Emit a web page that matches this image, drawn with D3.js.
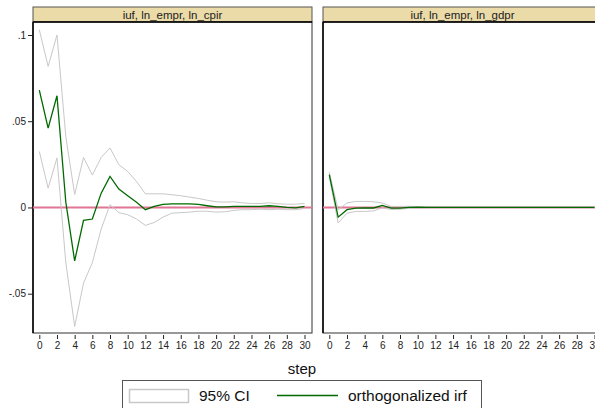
<!DOCTYPE html>
<html>
<head>
<meta charset="utf-8">
<script src="https://cdn.jsdelivr.net/npm/d3@7"></script>
<style>
  body { margin: 0; background: #fff; }
  svg { font-family: "Liberation Sans", Arial, sans-serif; }
</style>
</head>
<body>
<div id="chart"></div>
<script>
// 1: DATA
const steps = d3.range(0, 31);
const panelTitles = ["iuf, ln_empr, ln_cpir", "iuf, ln_empr, ln_gdpr"];
const yTicks = [-0.05, 0, 0.05, 0.1];
const yTickLabels = ["-.05", "0", ".05", ".1"];
const xTicks = d3.range(0, 31, 2);

const irfCpi = [0.068, 0.046, 0.0648, 0.003, -0.031, -0.0075, -0.0067, 0.0083, 0.018, 0.0107,
  0.0068, 0.003, -0.0013, 0.0006, 0.0018, 0.0021, 0.0021, 0.0021, 0.0018, 0.001,
  0.0003, 0.0003, 0.0006, 0.0006, 0.0006, 0.0006, 0.001, 0.0006, 0.0, -0.0002, 0.0006];
const upperCpi = [0.103, 0.0818, 0.1, 0.041, 0.0075, 0.029, 0.0188, 0.029, 0.0345, 0.0248,
  0.0209, 0.015, 0.0079, 0.0079, 0.0079, 0.0074, 0.0068, 0.006, 0.0052, 0.0042,
  0.0033, 0.0031, 0.0033, 0.0027, 0.0023, 0.0023, 0.0027, 0.0021, 0.0019, 0.0019, 0.0023];
const lowerCpi = [0.0325, 0.0112, 0.0287, -0.032, -0.069, -0.0439, -0.032, -0.0125, 0.0016, -0.003,
  -0.0042, -0.0067, -0.0104, -0.0087, -0.0056, -0.0033, -0.003, -0.0027, -0.0022, -0.0022,
  -0.0027, -0.0025, -0.0017, -0.0013, -0.0013, -0.001, -0.0013, -0.001, -0.0013, -0.0013, -0.0006];

const irfGdp = [0.019, -0.0056, -0.0013, -0.0004, -0.0003, -0.0003, 0.0012, -0.0004, -0.0004, 0.0,
  0.0002, 0, 0, 0, 0, 0, 0, 0, 0, 0, 0, 0, 0, 0, 0, 0, 0, 0, 0, 0, 0];
const upperGdp = [0.0205, -0.0013, 0.0026, 0.0035, 0.0035, 0.0033, 0.0026, 0.0006, 0.0006, 0.0007,
  0.0005, 0.0003, 0.0002, 0.0002, 0.0002, 0.0002, 0.0002, 0.0002, 0.0002, 0.0002,
  0.0002, 0.0002, 0.0002, 0.0002, 0.0002, 0.0002, 0.0002, 0.0002, 0.0002, 0.0002, 0.0002];
const lowerGdp = [0.0175, -0.009, -0.0033, -0.0023, -0.0023, -0.002, -0.0002, -0.0012, -0.001, -0.0005,
  -0.0003, -0.0002, -0.0002, -0.0002, -0.0002, -0.0002, -0.0002, -0.0002, -0.0002, -0.0002,
  -0.0002, -0.0002, -0.0002, -0.0002, -0.0002, -0.0002, -0.0002, -0.0002, -0.0002, -0.0002, -0.0002];

const panels = [
  { title: panelTitles[0], irf: irfCpi, upper: upperCpi, lower: lowerCpi },
  { title: panelTitles[1], irf: irfGdp, upper: upperGdp, lower: lowerGdp }
];

// 2: LAYOUT
const W = 595, H = 408;
const panelW = 279, panelGap = 11;
const plotTop = 22, plotBottom = 333, headerTop = 7;
const panelLeft0 = 33;

const svg = d3.select("#chart").append("svg")
  .attr("width", W).attr("height", H);

// 3: SCALES
const yScale = d3.scaleLinear().domain([-0.05, 0.1]).range([293.7, 35]);
const xScale = d3.scaleLinear().domain([0, 30]).range([6.3, 271.5]);

const line = d3.line()
  .x((d, i) => xScale(steps[i]))
  .y(d => yScale(d));

// 4: PANELS
panels.forEach((p, k) => {
  const left = panelLeft0 + k * (panelW + panelGap);
  const g = svg.append("g").attr("transform", `translate(${left},0)`);

  // header strip
  g.append("rect")
    .attr("x", 0).attr("y", headerTop)
    .attr("width", panelW).attr("height", plotTop - headerTop)
    .attr("fill", "#eadba8").attr("stroke", "#555").attr("stroke-width", 1);
  g.append("text")
    .attr("x", panelW / 2).attr("y", headerTop + 11.5)
    .attr("text-anchor", "middle")
    .attr("font-size", 11.5).attr("fill", "#222")
    .text(p.title);

  // plot frame
  g.append("rect")
    .attr("x", 0).attr("y", plotTop)
    .attr("width", panelW).attr("height", plotBottom - plotTop)
    .attr("fill", "#fff").attr("stroke", "#333").attr("stroke-width", 1);
  g.append("line")
    .attr("x1", 0).attr("x2", panelW)
    .attr("y1", plotTop).attr("y2", plotTop)
    .attr("stroke", "#000").attr("stroke-width", 1.5);
  g.append("line")
    .attr("x1", 0).attr("x2", 0)
    .attr("y1", plotTop).attr("y2", plotBottom)
    .attr("stroke", "#000").attr("stroke-width", 1.5);

  // zero line
  g.append("line")
    .attr("x1", 0).attr("x2", panelW)
    .attr("y1", yScale(0)).attr("y2", yScale(0))
    .attr("stroke", "#e07595").attr("stroke-width", 2);

  // CI lines
  [p.upper, p.lower].forEach(arr => {
    g.append("path")
      .attr("d", line(arr))
      .attr("fill", "none")
      .attr("stroke", "#c8c8c8")
      .attr("stroke-width", 1);
  });

  // irf line
  g.append("path")
    .attr("d", line(p.irf))
    .attr("fill", "none")
    .attr("stroke", "#006a00")
    .attr("stroke-width", 1.3);

  // x axis
  const xAxis = g.append("g")
    .attr("transform", `translate(0,${plotBottom + 2})`)
    .call(d3.axisBottom(xScale).tickValues(xTicks).tickSize(4).tickPadding(3));
  xAxis.select(".domain").remove();
  xAxis.selectAll("text").attr("font-size", 10).attr("fill", "#222")
    .attr("font-family", "Liberation Sans, Arial, sans-serif");
  xAxis.selectAll("line").attr("stroke", "#222");

  // y axis (left panel only)
  if (k === 0) {
    const yAxis = g.append("g")
      .call(d3.axisLeft(yScale).tickValues(yTicks)
        .tickFormat((d, i) => yTickLabels[i]).tickSize(5).tickPadding(2));
    yAxis.select(".domain").remove();
    yAxis.selectAll("text").attr("font-size", 10).attr("fill", "#222")
      .attr("font-family", "Liberation Sans, Arial, sans-serif");
    yAxis.selectAll("line").attr("stroke", "#222");
  }
});

// 5: AXIS TITLE
svg.append("text")
  .attr("x", 302).attr("y", 374)
  .attr("text-anchor", "middle")
  .attr("font-size", 15).attr("fill", "#111")
  .text("step");

// 6: LEGEND
const lg = svg.append("g");
lg.append("rect")
  .attr("x", 122.5).attr("y", 380.5)
  .attr("width", 359).attr("height", 40)
  .attr("fill", "#fff").attr("stroke", "#555").attr("stroke-width", 1);
lg.append("rect")
  .attr("x", 129.5).attr("y", 389.5)
  .attr("width", 59).attr("height", 13)
  .attr("fill", "#fff").attr("stroke", "#c8c8c8").attr("stroke-width", 1.5);
lg.append("text")
  .attr("x", 199).attr("y", 401)
  .attr("font-size", 15.5).attr("fill", "#111")
  .text("95% CI");
lg.append("line")
  .attr("x1", 277).attr("x2", 338)
  .attr("y1", 395.5).attr("y2", 395.5)
  .attr("stroke", "#006a00").attr("stroke-width", 1.5);
lg.append("text")
  .attr("x", 348).attr("y", 401)
  .attr("font-size", 15.5).attr("fill", "#111")
  .text("orthogonalized irf");
</script>
</body>
</html>
